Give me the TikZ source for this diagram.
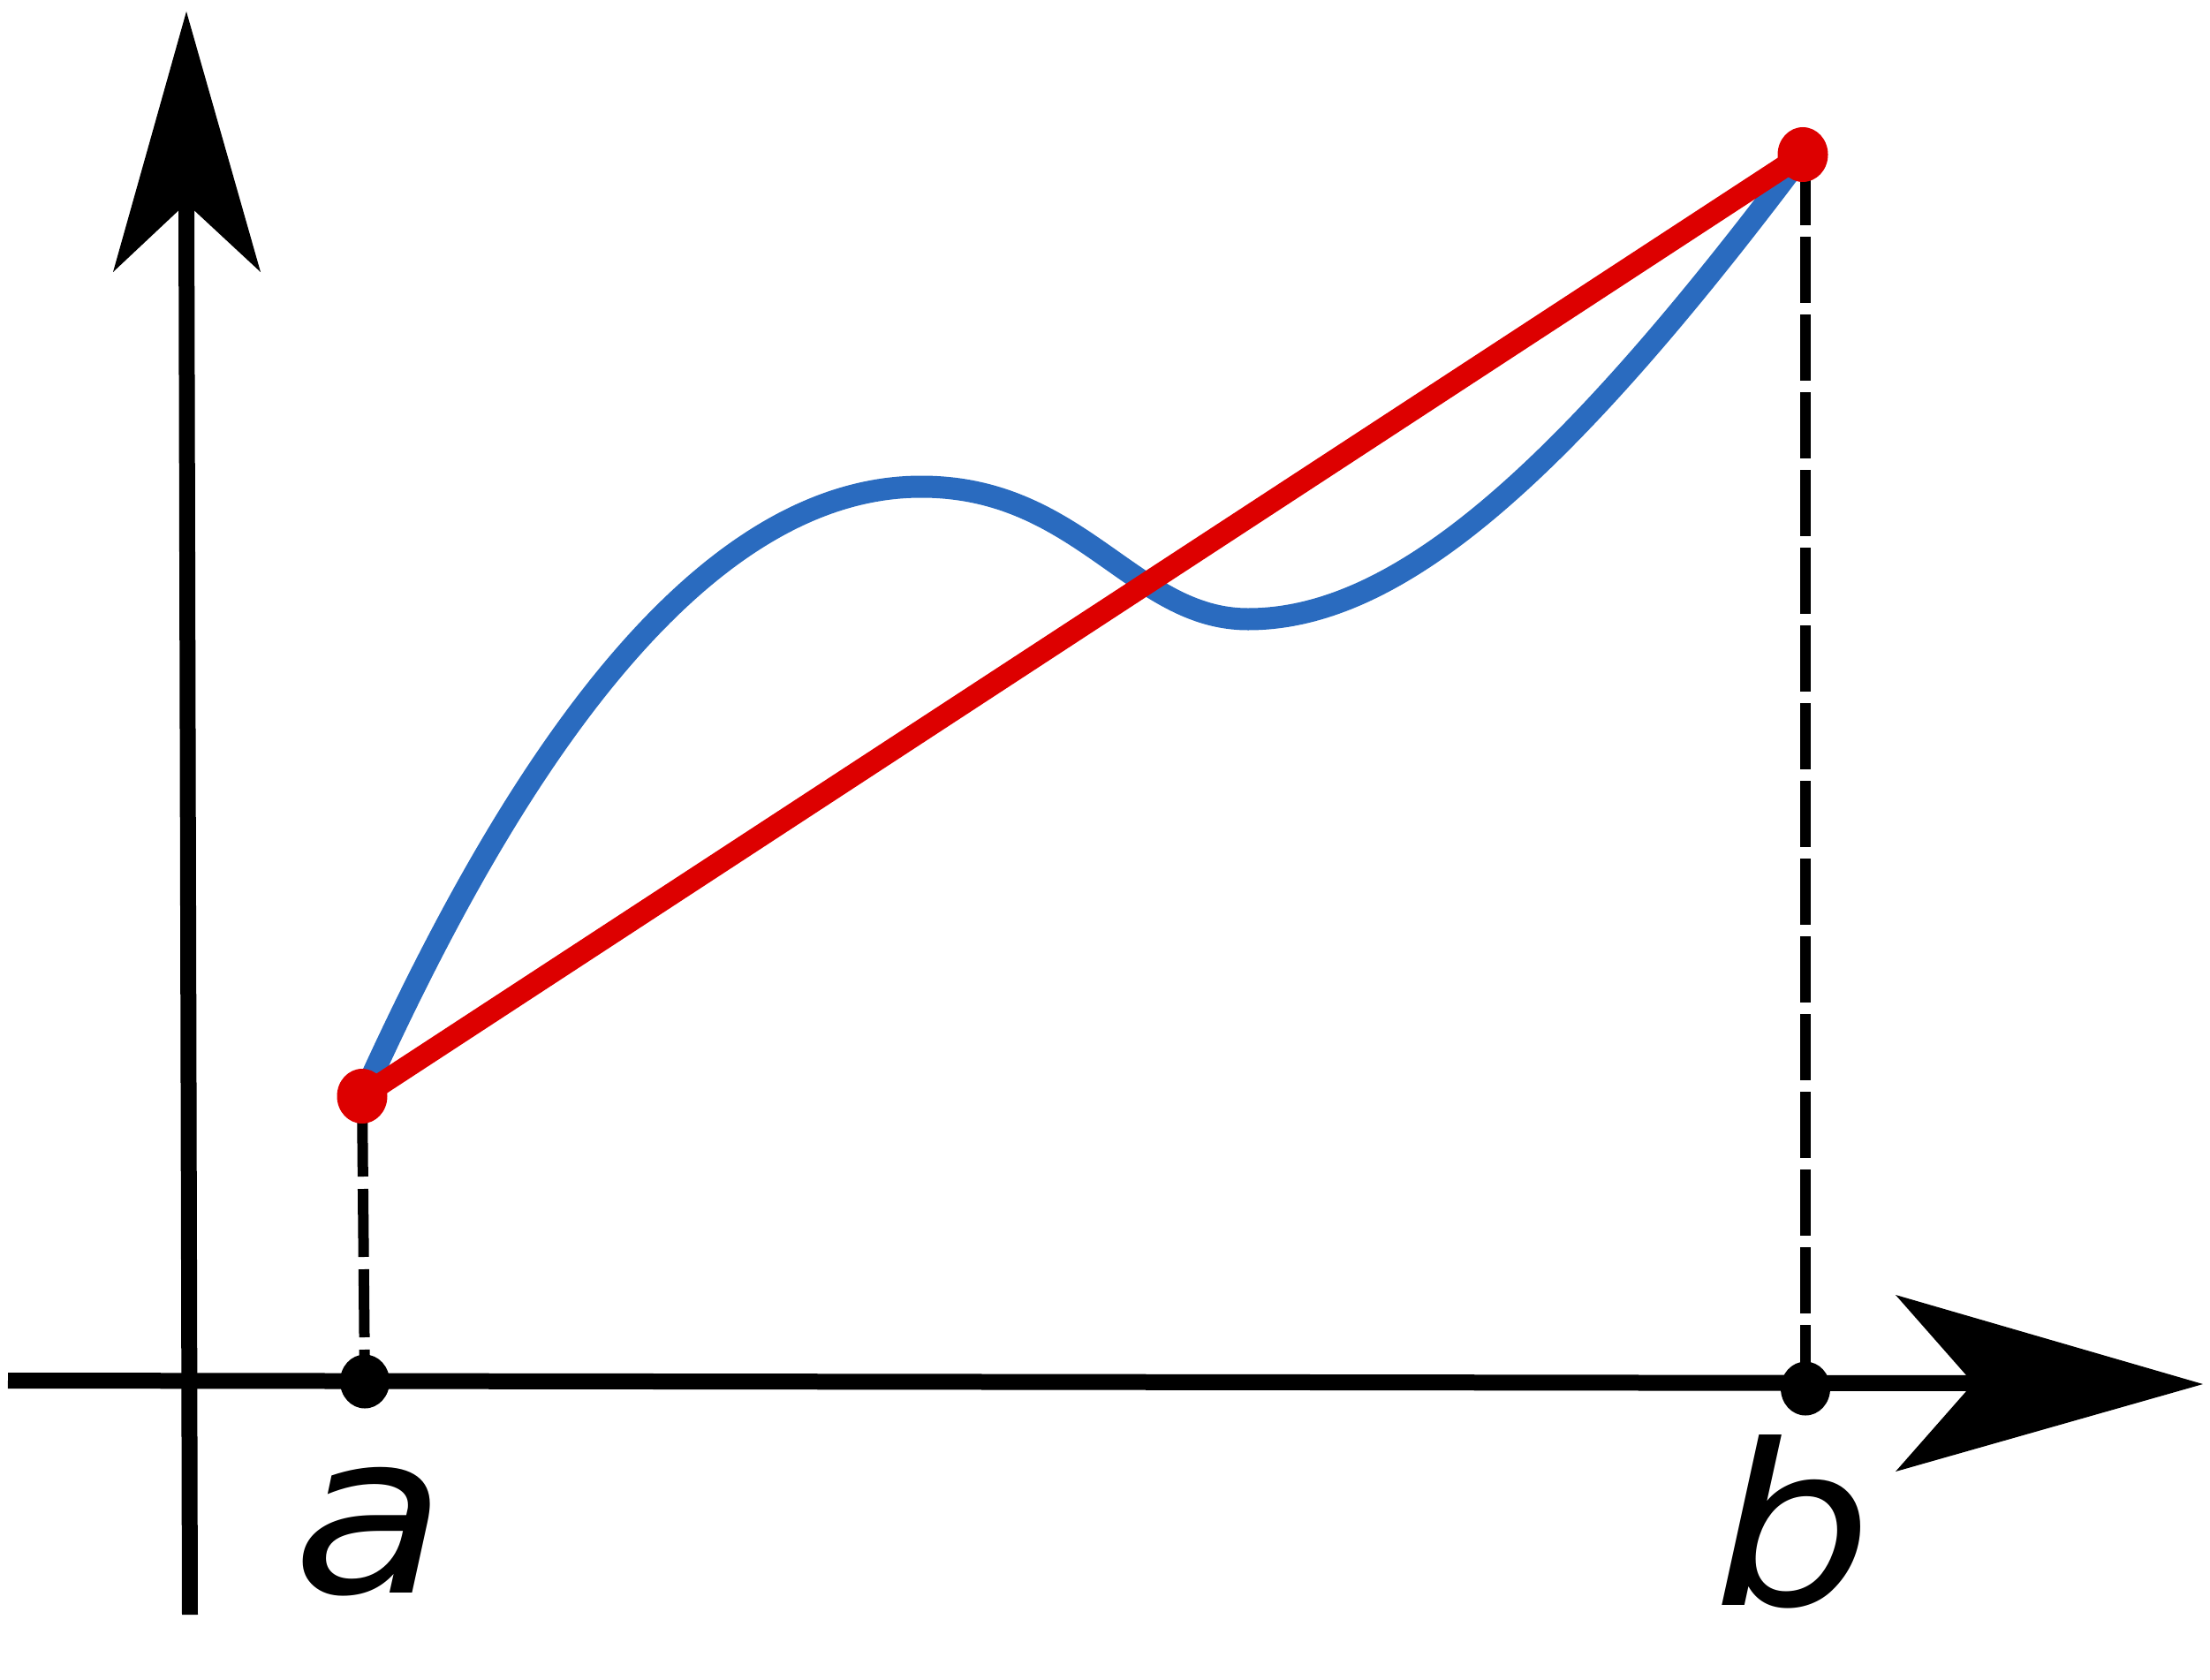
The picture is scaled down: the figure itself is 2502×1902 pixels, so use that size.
\documentclass[tikz,border=0pt]{standalone}
\usepackage{fontspec}
\setmainfont{DejaVu Sans}
\newfontfamily\lblfont{DejaVu Sans Oblique}[FakeStretch=1.12]
\usetikzlibrary{shapes.geometric}
\definecolor{cblue}{HTML}{2A6BBF}
\definecolor{cred}{HTML}{DD0000}
\begin{document}
\begin{tikzpicture}[x=1pt,y=-1pt,
  axisline/.style={line width=18pt,black},
  guide/.style={line width=12pt,black},
  dotblack/.style={ellipse,fill=black,minimum width=56pt,minimum height=61pt,inner sep=0pt},
  dotred/.style={ellipse,fill=cred,minimum width=57pt,minimum height=62pt,inner sep=0pt},
  lbl/.style={font=\lblfont\fontsize{254}{254}\selectfont,inner sep=0pt,anchor=base}]
\useasboundingbox (0,0) rectangle (2502,1902);
% axes
\coordinate (xs) at (9,1563);
\coordinate (xe) at (2240,1566);
\coordinate (ys) at (215,1828);
\coordinate (ye) at (211,225);
\draw[axisline] (xs) -- (xe);
\draw[axisline] (ys) -- (ye);
\fill (2494,1567) -- (2146,1466) -- (2234,1566) -- (2146,1666) -- cycle;
\fill (211,13) -- (128,308) -- (211,230) -- (295,308) -- cycle;
% points
\coordinate (fa) at (410,1241);
\coordinate (fb) at (2041,175);
\coordinate (pa) at (413,1564);
\coordinate (pb) at (2044,1572);
\coordinate (peak) at (1043,551);
\coordinate (trough) at (1413,701);
% blue curve
\draw[cblue,line width=25pt] (412,1238)
  .. controls (532,974) and (753,551) .. (peak)
  .. controls (1223,551) and (1283,701) .. (trough)
  .. controls (1583,701) and (1770,536) .. (2040,176);
% secant
\draw[cred,line width=25pt] (fa) -- (fb);
% guides
\draw[guide,dash pattern=on 77pt off 14pt,dash phase=77pt] (fa) -- (pa);
\draw[guide,dash pattern=on 75pt off 13pt,dash phase=84pt] (2044,176) -- (pb);
% dots
\node[dotblack] (na) at (pa) {};
\node[dotblack] (nb) at (pb) {};
\node[dotred] (ra) at (fa) {};
\node[dotred] (rb) at (fb) {};
% labels
\node[lbl] (la) at (419,1803) {a};
\node[lbl] (lb) at (2030,1817) {b};
\end{tikzpicture}
\end{document}
